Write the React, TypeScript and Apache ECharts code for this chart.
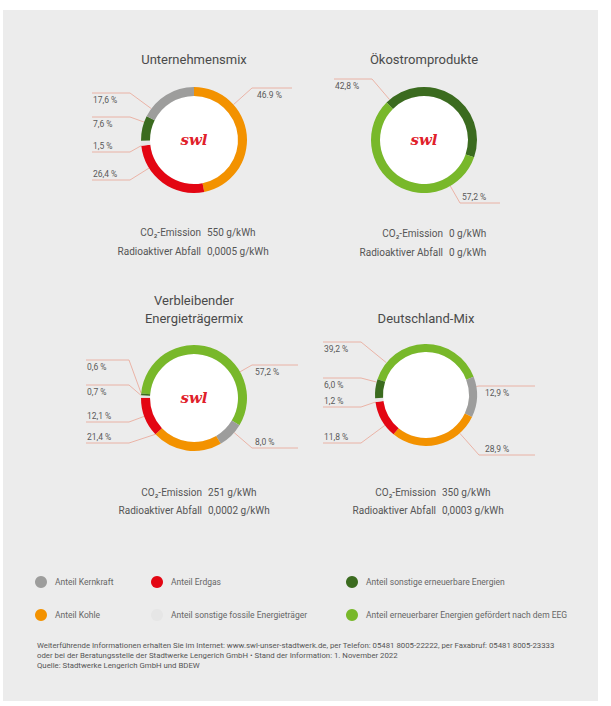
import React, { useEffect, useRef } from "react";
import * as echarts from "echarts";

// ---------- DATA ----------
const KERN = "Anteil Kernkraft";
const KOHLE = "Anteil Kohle";
const ERDGAS = "Anteil Erdgas";
const FOSSIL = "Anteil sonstige fossile Energieträger";
const ERNEUERBAR = "Anteil sonstige erneuerbare Energien";
const EEG = "Anteil erneuerbarer Energien gefördert nach dem EEG";

const chartTitles = ["Unternehmensmix", "Ökostromprodukte", "Verbleibender\nEnergieträgermix", "Deutschland-Mix"];

const mixCategories = [KOHLE, ERDGAS, FOSSIL, ERNEUERBAR, KERN];
const mixValues = [46.9, 26.4, 1.5, 7.6, 17.6];
const mixLabels = ["46.9 %", "26,4 %", "1,5 %", "7,6 %", "17,6 %"];

const oekoCategories = [ERNEUERBAR, EEG];
const oekoValues = [42.8, 57.2];
const oekoLabels = ["42,8 %", "57,2 %"];

const restCategories = [EEG, KERN, KOHLE, ERDGAS, FOSSIL, ERNEUERBAR];
const restValues = [57.2, 8.0, 21.4, 12.1, 0.7, 0.6];
const restLabels = ["57,2 %", "8,0 %", "21,4 %", "12,1 %", "0,7 %", "0,6 %"];

const deCategories = [EEG, KERN, KOHLE, ERDGAS, FOSSIL, ERNEUERBAR];
const deValues = [39.2, 12.9, 28.9, 11.8, 1.2, 6.0];
const deLabels = ["39,2 %", "12,9 %", "28,9 %", "11,8 %", "1,2 %", "6,0 %"];

const co2Values = ["550 g/kWh", "0 g/kWh", "251 g/kWh", "350 g/kWh"];
const wasteValues = ["0,0005 g/kWh", "0 g/kWh", "0,0002 g/kWh", "0,0003 g/kWh"];

const legendColumns = [
  [KERN, KOHLE],
  [ERDGAS, FOSSIL],
  [ERNEUERBAR, EEG],
];

const footerLines = [
  "Weiterführende Informationen erhalten Sie im Internet: www.swl-unser-stadtwerk.de, per Telefon: 05481 8005-22222, per Faxabruf: 05481 8005-23333",
  "oder bei der Beratungsstelle der Stadtwerke Lengerich GmbH • Stand der Information: 1. November 2022",
  "Quelle: Stadtwerke Lengerich GmbH und BDEW",
];

// ---------- STYLE / LAYOUT ----------
const COLORS: Record<string, string> = {
  [KERN]: "#9d9d9c",
  [KOHLE]: "#f39200",
  [ERDGAS]: "#e30613",
  [FOSSIL]: "#e6e6e6",
  [ERNEUERBAR]: "#3b6b1f",
  [EEG]: "#78b82a",
};

const FONT = "Roboto, 'DejaVu Sans', sans-serif";
const LINE_COLOR = "#eaa594";

const charts = [
  {
    cats: mixCategories, vals: mixValues, labels: mixLabels,
    cx: 194, cy: 140, r: 53, rIn: 44, start: 90, logo: true,
    titleY: 59, leftX: 92, leftBend: 130, rightBend: 252, rightTextX: 257, rightEnd: 292,
    place: [["R", 88], ["L", 180], ["L", 152], ["L", 117], ["L", 93]],
    colX: 201, rowY: [232, 251],
  },
  {
    cats: oekoCategories, vals: oekoValues, labels: oekoLabels,
    cx: 424, cy: 140, r: 53, rIn: 44, start: 135, logo: true,
    titleY: 59, leftX: 334, leftBend: 372, rightBend: 460, rightTextX: 462, rightEnd: 500,
    place: [["L", 79], ["R", 203]],
    colX: 443, rowY: [233, 252],
  },
  {
    cats: restCategories, vals: restValues, labels: restLabels,
    cx: 194, cy: 398, r: 53, rIn: 44, start: 175, logo: true,
    titleY: 309, leftX: 86, leftBend: 129, rightBend: 252, rightTextX: 255, rightEnd: 298,
    place: [["R", 365], ["R", 448], ["L", 443], ["L", 422], ["L", 385], ["L", 360]],
    colX: 202, rowY: [492, 510],
  },
  {
    cats: deCategories, vals: deValues, labels: deLabels,
    cx: 426, cy: 395, r: 51, rIn: 43, start: 162, logo: false,
    titleY: 318, leftX: 323, leftBend: 361, rightBend: 479, rightTextX: 485, rightEnd: 535,
    place: [["L", 342], ["R", 386], ["R", 455], ["L", 443], ["L", 407], ["L", 378]],
    colX: 436, rowY: [492, 510],
  },
];

function sliceRanges(values: number[], startAngle: number) {
  const total = values.reduce((a, b) => a + b, 0);
  const t0 = 90 - startAngle;
  let acc = 0;
  return values.map((v) => {
    const lo = t0 + (360 * acc) / total;
    acc += v;
    const hi = t0 + (360 * acc) / total;
    return [lo, hi];
  });
}

function ringPoint(cx: number, cy: number, r: number, range: number[], bx: number, by: number) {
  const [lo, hi] = range;
  let t = (Math.atan2(bx - cx, -(by - cy)) * 180) / Math.PI;
  t = (((t - lo) % 360) + 360) % 360 + lo;
  if (t > hi) t = t - hi < lo + 360 - t ? hi : lo;
  const rad = (t * Math.PI) / 180;
  return [cx + r * Math.sin(rad), cy - r * Math.cos(rad)];
}

export default function App() {
  const ref = useRef<HTMLDivElement>(null);

  useEffect(() => {
    if (!ref.current) return;
    const chart = echarts.init(ref.current, null, { renderer: "svg" });

    const series = charts.map((c) => {
      const ranges = sliceRanges(c.vals, c.start);
      return {
        type: "pie",
        center: [c.cx, c.cy],
        radius: [c.rIn, c.r],
        startAngle: c.start,
        clockwise: true,
        avoidLabelOverlap: false,
        silent: true,
        data: c.cats.map((n, i) => ({ name: n, value: c.vals[i], itemStyle: { color: COLORS[n] } })),
        label: {
          show: true,
          position: "outside",
          formatter: (p: any) => c.labels[p.dataIndex],
          fontSize: 8.5,
          fontFamily: FONT,
          color: "#5a5a5a",
        },
        labelLine: { show: true, length: 8, length2: 8, lineStyle: { color: LINE_COLOR, width: 0.8 } },
        labelLayout: (params: any) => {
          const i = params.dataIndex;
          const [side, ly] = c.place[i] as [string, number];
          const bx = side === "L" ? c.leftBend : c.rightBend;
          const P = ringPoint(c.cx, c.cy, c.r, ranges[i], bx, ly);
          const endX = side === "L" ? c.leftX : c.rightEnd;
          const below = ly < P[1];
          return {
            x: side === "L" ? c.leftX + 1 : c.rightTextX,
            y: ly + (below ? 7 : -6.5),
            align: "left",
            verticalAlign: "middle",
            labelLinePoints: [P, [bx, ly], [endX, ly]],
          };
        },
      };
    });

    const graphics: any[] = [
      { type: "rect", shape: { x: 3, y: 10, width: 595, height: 691 }, style: { fill: "#ececec" }, silent: true },
    ];
    charts.forEach((c, k) => {
      graphics.push({
        type: "text",
        x: c.cx,
        y: c.titleY,
        style: { text: chartTitles[k], fontSize: 13, lineHeight: 18, fontFamily: FONT, fill: "#4a4a4a", align: "center", verticalAlign: "middle" },
      });
      graphics.push({ type: "circle", shape: { cx: c.cx, cy: c.cy, r: c.rIn }, style: { fill: "#ffffff" } });
      if (c.logo) {
        graphics.push({
          type: "text",
          x: c.cx,
          y: c.cy,
          style: { text: "swl", fontSize: 15, fontStyle: "italic", fontWeight: "bold", fontFamily: "'DejaVu Serif', serif", fill: "#e0202a", align: "center", verticalAlign: "middle" },
        });
      }
      const rows = [["CO₂-Emission", co2Values[k]], ["Radioaktiver Abfall", wasteValues[k]]];
      rows.forEach((row, j) => {
        graphics.push({
          type: "text", x: c.colX, y: c.rowY[j],
          style: { text: row[0], fontSize: 10, fontFamily: FONT, fill: "#555", align: "right", verticalAlign: "middle" },
        });
        graphics.push({
          type: "text", x: c.colX + 6, y: c.rowY[j],
          style: { text: row[1], fontSize: 10, fontFamily: FONT, fill: "#555", align: "left", verticalAlign: "middle" },
        });
      });
    });
    footerLines.forEach((t, j) => {
      graphics.push({
        type: "text", x: 37, y: 645 + j * 10,
        style: { text: t, fontSize: 7.8, fontFamily: FONT, fill: "#555", align: "left", verticalAlign: "middle" },
      });
    });

    const legendLefts = [35, 151, 346];
    const legend = legendColumns.map((col, k) => ({
      left: legendLefts[k],
      top: 576,
      orient: "vertical",
      itemGap: 21,
      itemWidth: 12,
      itemHeight: 12,
      icon: "circle",
      padding: 0,
      selectedMode: false,
      data: col,
      textStyle: { fontSize: 8.5, color: "#666", fontFamily: FONT, padding: [0, 0, 0, 3] },
    }));

    chart.setOption({
      animation: false,
      backgroundColor: "#ffffff",
      graphic: { elements: graphics },
      legend,
      series,
    });
    return () => chart.dispose();
  }, []);

  return <div ref={ref} style={{ position: "absolute", left: 0, top: 0, width: 611, height: 706 }} />;
}
